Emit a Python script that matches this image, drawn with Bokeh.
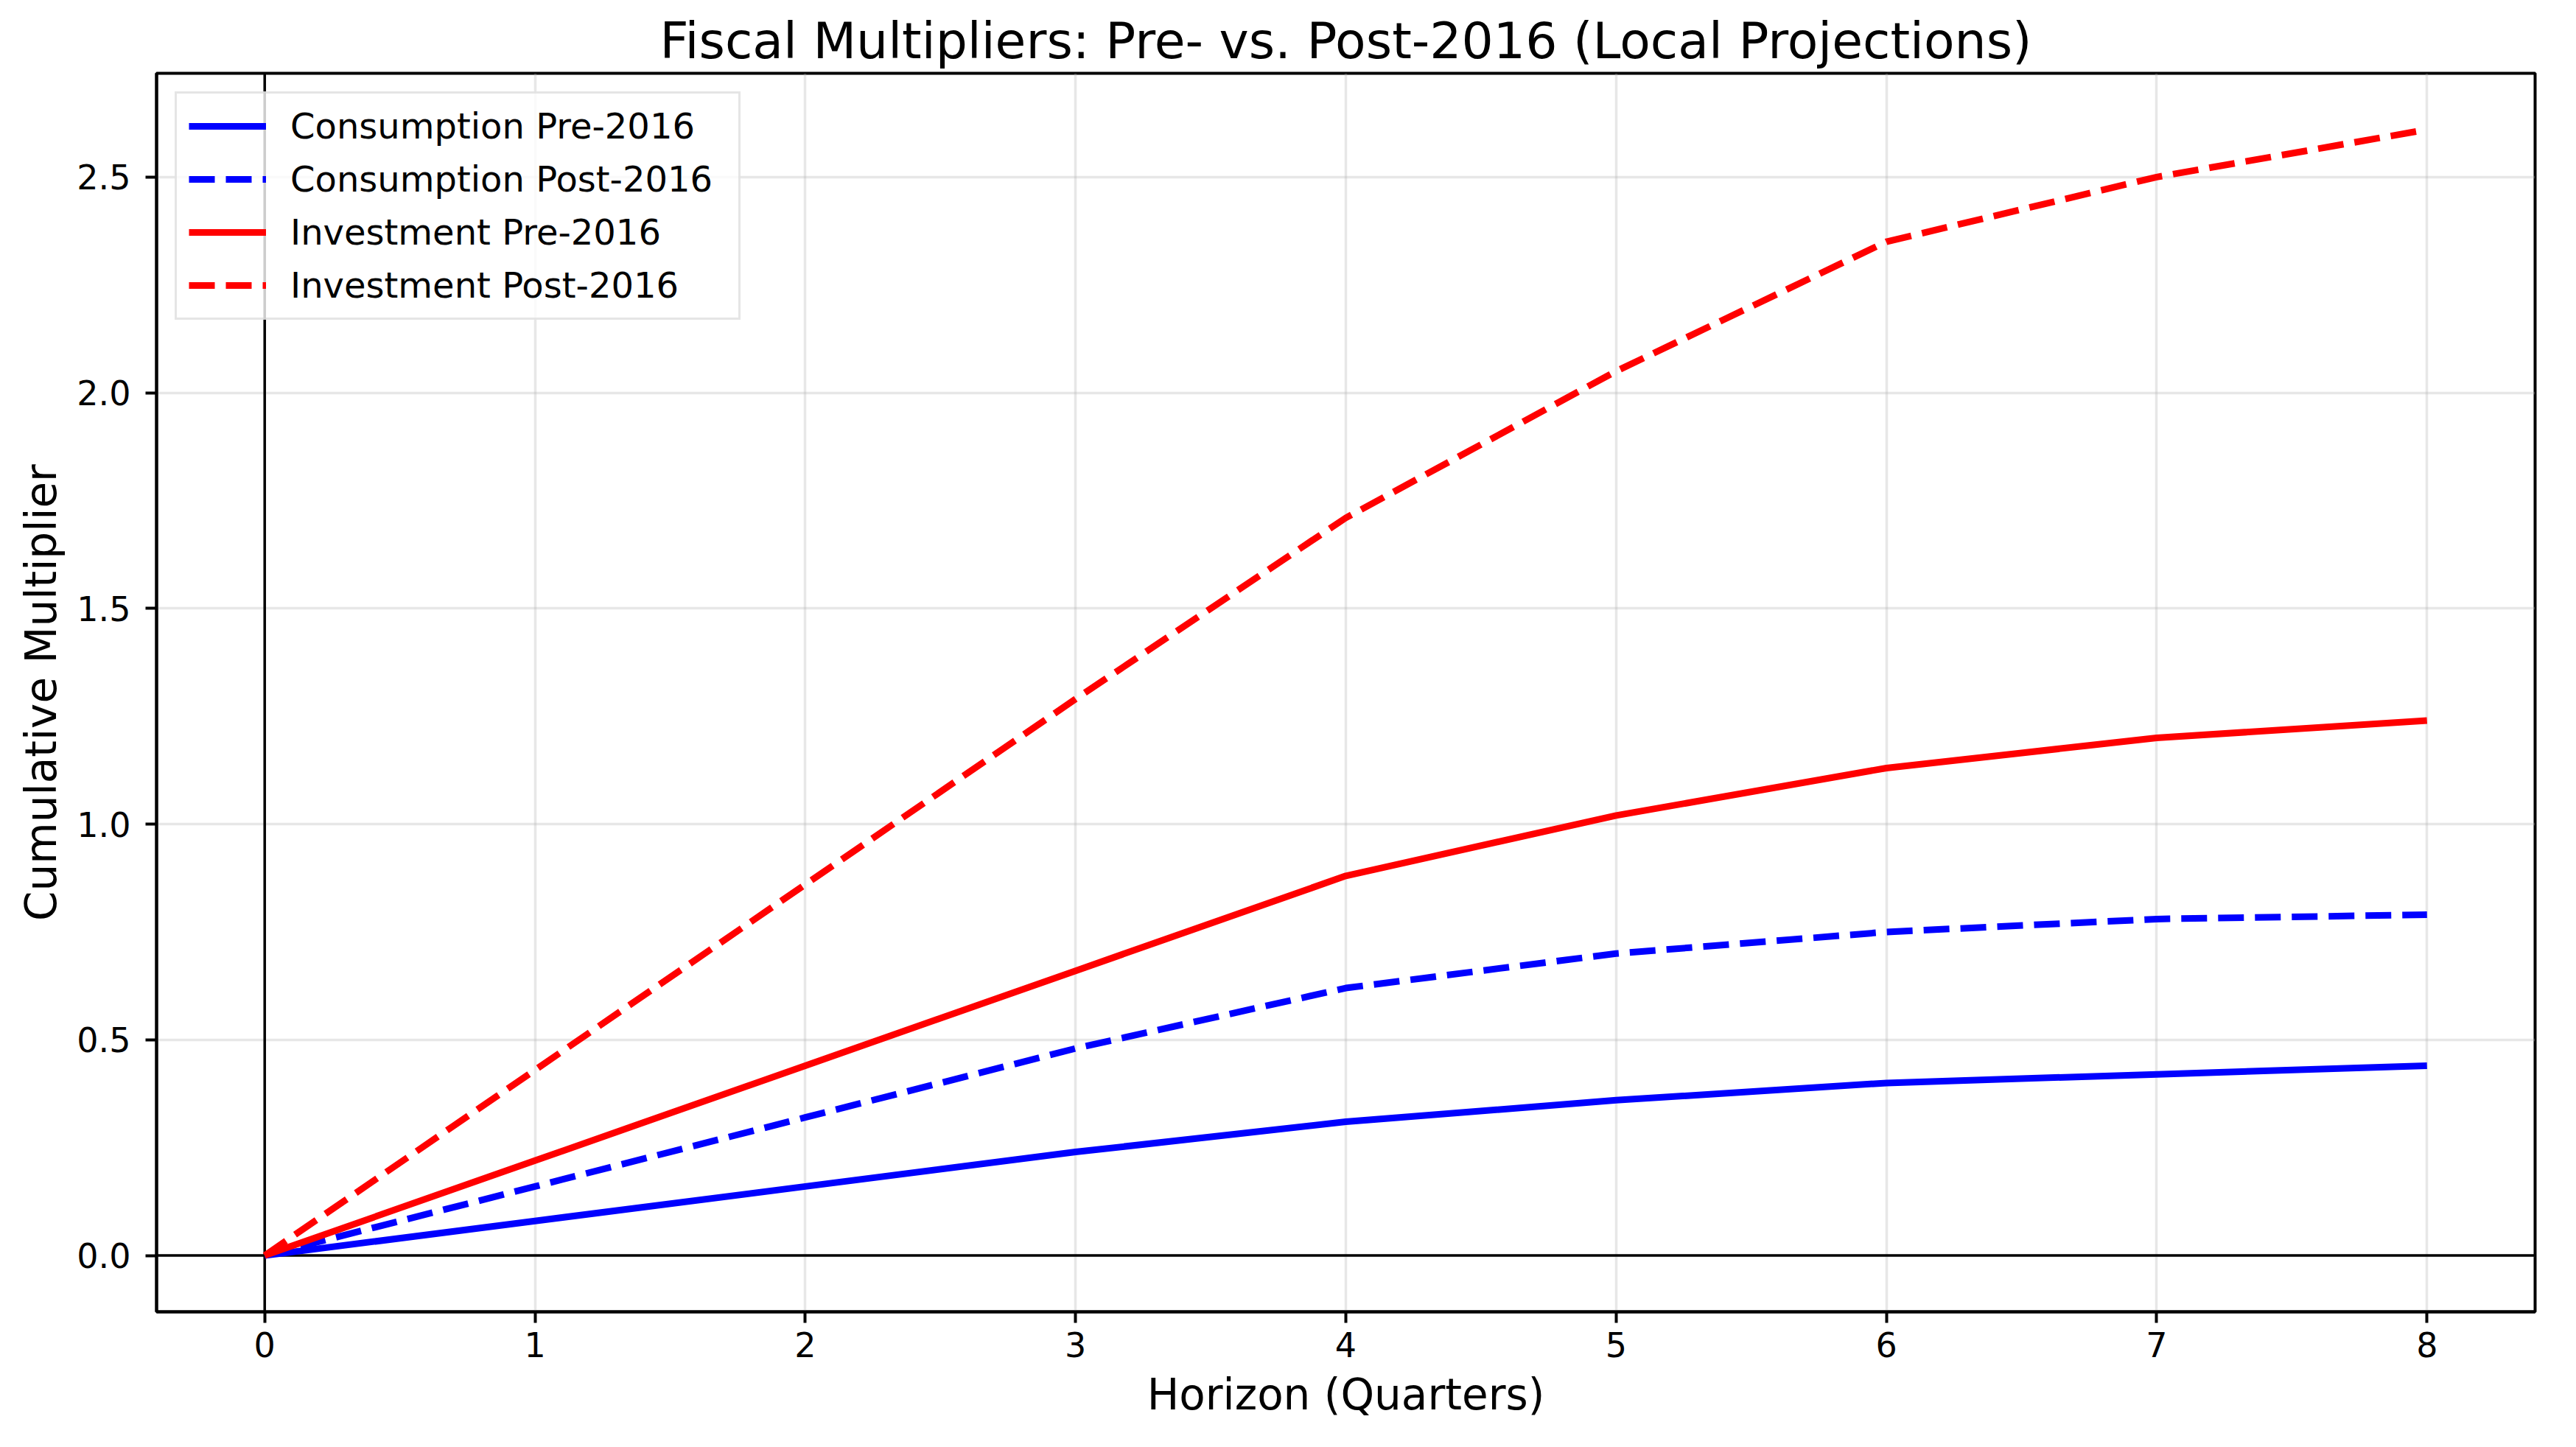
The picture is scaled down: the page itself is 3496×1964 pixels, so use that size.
from bokeh.plotting import figure
from bokeh.models import Span, FixedTicker, PrintfTickFormatter, Range1d
from bokeh.embed import file_html
from bokeh.resources import INLINE

# ---- data ----
horizon = [0, 1, 2, 3, 4, 5, 6, 7, 8]
consumption_pre = [0.0, 0.08, 0.16, 0.24, 0.31, 0.36, 0.40, 0.42, 0.44]
consumption_post = [0.0, 0.16, 0.32, 0.48, 0.62, 0.70, 0.75, 0.78, 0.79]
investment_pre = [0.0, 0.22, 0.44, 0.66, 0.88, 1.02, 1.13, 1.20, 1.24]
investment_post = [0.0, 0.43, 0.86, 1.29, 1.71, 2.05, 2.35, 2.50, 2.61]
x_ticks = [0, 1, 2, 3, 4, 5, 6, 7, 8]
y_ticks = [0.0, 0.5, 1.0, 1.5, 2.0, 2.5]

FONT = "DejaVu Sans"

p = figure(
    width=3480, height=1948,
    output_backend="svg", toolbar_location=None,
    x_range=Range1d(-0.4, 8.4), y_range=Range1d(-0.1305, 2.7405),
    min_border_left=212, min_border_right=40,
    min_border_top=99, min_border_bottom=168,
    title="Fiscal Multipliers: Pre- vs. Post-2016 (Local Projections)",
)
p.background_fill_color = "white"
p.border_fill_color = "white"
p.outline_line_color = "black"
p.outline_line_width = 4

p.title.text_font = FONT
p.title.text_font_size = "68px"
p.title.text_font_style = "normal"
p.title.align = "center"
p.title.text_color = "black"
p.title.standoff = 10

# grid
for g in (p.xgrid, p.ygrid):
    g.grid_line_color = "#b0b0b0"
    g.grid_line_alpha = 0.3
    g.grid_line_width = 3.5

# zero lines
p.add_layout(Span(location=0, dimension="width", line_color="black",
                  line_width=3.5, level="underlay"))
p.add_layout(Span(location=0, dimension="height", line_color="black",
                  line_width=3.5, level="underlay"))

LW = 9
DASH = "35 15"
p.line(horizon, consumption_pre, line_color="blue", line_width=LW,
       legend_label="Consumption Pre-2016")
p.line(horizon, consumption_post, line_color="blue", line_width=LW,
       line_dash=DASH, legend_label="Consumption Post-2016")
p.line(horizon, investment_pre, line_color="red", line_width=LW,
       legend_label="Investment Pre-2016")
p.line(horizon, investment_post, line_color="red", line_width=LW,
       line_dash=DASH, legend_label="Investment Post-2016")

# axes
p.xaxis.ticker = FixedTicker(ticks=x_ticks)
p.yaxis.ticker = FixedTicker(ticks=y_ticks)
p.yaxis.formatter = PrintfTickFormatter(format="%.1f")
p.xaxis.axis_label = "Horizon (Quarters)"
p.yaxis.axis_label = "Cumulative Multiplier"
for ax in (p.xaxis, p.yaxis):
    ax.axis_line_color = "black"
    ax.axis_line_width = 4
    ax.major_tick_line_color = "black"
    ax.major_tick_line_width = 4
    ax.major_tick_in = 0
    ax.major_tick_out = 15
    ax.minor_tick_line_color = None
    ax.major_label_text_font = FONT
    ax.major_label_text_font_size = "46px"
    ax.major_label_text_color = "black"
    ax.axis_label_text_font = FONT
    ax.axis_label_text_font_size = "58px"
    ax.axis_label_text_font_style = "normal"
    ax.axis_label_text_color = "black"
p.xaxis.major_label_standoff = 12
p.yaxis.major_label_standoff = 20
p.xaxis.axis_label_standoff = 14
p.yaxis.axis_label_standoff = 11

# legend
lg = p.legend[0]
lg.location = "top_left"
lg.margin = 25
lg.padding = 16
lg.spacing = 16
lg.glyph_width = 105
lg.glyph_height = 40
lg.label_height = 54
lg.label_width = 592
lg.label_standoff = 33
lg.label_text_font = FONT
lg.label_text_font_size = "48px"
lg.label_text_color = "black"
lg.border_line_color = "#cccccc"
lg.border_line_width = 3
lg.background_fill_color = "white"
lg.background_fill_alpha = 0.8

open("out.html", "w").write(file_html(p, INLINE))
